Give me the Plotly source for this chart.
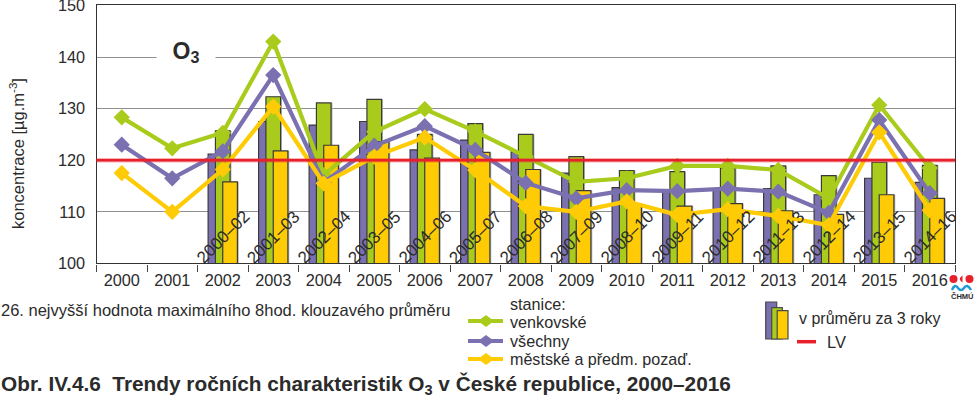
import plotly.graph_objects as go

W, H = 974, 396
years = [str(y) for y in range(2000, 2017)]
bar_years = years[2:]
period_labels = ["2000–02", "2001–03", "2002–04", "2003–05", "2004–06", "2005–07", "2006–08", "2007–09",
                 "2008–10", "2009–11", "2010–12", "2011–13", "2012–14", "2013–15", "2014–16"]

line_venkovske = [128.3, 122.3, 125.3, 143.0, 117.1, 125.5, 129.9, 125.6, 120.7, 115.8, 116.5, 118.9, 118.9, 118.1, 112.6, 130.7, 118.5]
line_vsechny = [123.0, 116.5, 121.7, 136.5, 115.7, 122.8, 126.6, 122.0, 115.6, 112.6, 114.2, 114.0, 114.5, 113.9, 109.8, 127.8, 113.6]
line_mestske = [117.5, 110.0, 118.2, 130.4, 115.5, 120.7, 124.4, 118.1, 111.1, 110.0, 112.0, 109.4, 110.5, 109.2, 107.4, 125.4, 110.3]

bar_vsechny = [121.2, 127.5, 126.8, 127.5, 122.0, 123.9, 121.6, 117.5, 114.7, 114.0, 114.3, 114.5, 113.3, 116.5, 115.7]
bar_venkovske = [125.7, 132.3, 131.1, 131.8, 125.0, 127.1, 125.0, 120.7, 118.0, 117.8, 118.5, 118.9, 117.0, 119.6, 119.0]
bar_mestske = [115.8, 121.8, 122.9, 123.6, 120.4, 121.5, 118.2, 114.1, 111.5, 111.1, 111.6, 110.2, 109.5, 113.3, 112.6]

LV = 120
GREEN, PURPLE, YELLOW, RED = "#a8cb1c", "#7b70b0", "#ffcb05", "#e8202c"
INK = "#2b2b2b"
FONT = "Liberation Sans"
BAR_W = 0.29

# margins are zero, so paper coordinates are simply pixels divided by the figure size
px = lambda v: v / W
py = lambda v: 1 - v / H
L, R, T, B = 96.5, 955, 5.4, 263.4

fig = go.Figure()
for name, vals, col, off in [("všechny", bar_vsechny, PURPLE, -BAR_W),
                             ("venkovské", bar_venkovske, GREEN, -BAR_W / 2),
                             ("městské", bar_mestske, YELLOW, 0)]:
    # soft grey shadow to the right of each bar, then the bar
    fig.add_bar(x=bar_years, y=vals, width=BAR_W, offset=off + 0.028, marker=dict(color="#b8b8b8", line=dict(width=0)))
    fig.add_bar(x=bar_years, y=vals, width=BAR_W, offset=off, marker=dict(color=col, line=dict(color="#3a3a3a", width=1.2)))
for vals, col in [(line_venkovske, GREEN), (line_vsechny, PURPLE), (line_mestske, YELLOW)]:
    fig.add_scatter(x=years, y=vals, mode="lines+markers", line=dict(color=col, width=4.2),
                    marker=dict(symbol="diamond", size=12.5, color=col), cliponaxis=False)

ann = []
def text(x, y, s, size=15, bold=False, anchor="left", color=INK):
    ann.append(dict(xref="paper", yref="paper", x=px(x), y=py(y), text=f"<b>{s}</b>" if bold else s, showarrow=False,
                    xanchor=anchor, yanchor="middle", borderpad=0, font=dict(family=FONT, size=size, color=color)))

for yr, lab in zip(bar_years, period_labels):
    ann.append(dict(xref="x", yref="y", x=years.index(yr), y=105.1, text=lab, showarrow=False, textangle=-45,
                    xanchor="center", yanchor="middle", font=dict(family=FONT, size=17, color=INK)))

ann.append(dict(xref="paper", yref="paper", x=px(186), y=py(52), text="<b>O<sub>3</sub></b>", showarrow=False, width=58, height=38,
                xanchor="center", yanchor="middle", bgcolor="white", borderpad=0, font=dict(family=FONT, size=23, color=INK)))
ann.append(dict(xref="paper", yref="paper", x=px(17), y=py(154), text="koncentrace [µg.m<sup>-3</sup>]", showarrow=False, textangle=-90,
                xanchor="center", yanchor="middle", font=dict(family=FONT, size=16.5, color=INK)))

text(0, 310, "26. nejvyšší hodnota maximálního 8hod. klouzavého průměru", 16.5)
text(509, 304, "stanice:", 16.2)
text(509, 322, "venkovské", 16.2)
text(509, 341, "všechny", 16.2)
text(509, 359, "městské a předm. pozaď.", 16.1)
text(798, 318, "v průměru za 3 roky", 16)
text(826, 342, "LV", 16.5)
text(0, 384.5, "Obr. IV.4.6\u00a0 Trendy ročních charakteristik O<sub>3</sub> v České republice, 2000–2016", 20.8, bold=True)
text(962, 296, "ČHMÚ", 7.5, bold=True, anchor="center")

shapes = []
# limit value line with its pale halo
shapes.append(dict(type="line", xref="paper", yref="y", x0=px(L), x1=px(R), y0=LV, y1=LV, line=dict(color="rgba(232,32,44,0.35)", width=4.5), layer="above"))
shapes.append(dict(type="line", xref="paper", yref="y", x0=px(L), x1=px(R), y0=LV, y1=LV, line=dict(color=RED, width=2.6), layer="above"))

def rect(x0, y0, x1, y1, col):
    shapes.append(dict(type="rect", xref="paper", yref="paper", x0=px(x0), x1=px(x1), y0=py(y0), y1=py(y1), fillcolor=col, line=dict(color="#4a4a4a", width=1.2)))

rect(765.7, 302, 776.7, 339, PURPLE)
rect(771.7, 307.7, 782.3, 339, GREEN)
rect(777.2, 310.7, 788, 339, YELLOW)
shapes.append(dict(type="line", xref="paper", yref="paper", x0=px(797), x1=px(816), y0=py(341.7), y1=py(341.7), line=dict(color=RED, width=3.5)))

for y, col in [(321, GREEN), (341, PURPLE), (359, YELLOW)]:
    shapes.append(dict(type="line", xref="paper", yref="paper", x0=px(468), x1=px(503), y0=py(y), y1=py(y), line=dict(color=col, width=4.2)))
    path = f"M {px(478)} {py(y)} L {px(486)} {py(y-6)} L {px(494)} {py(y)} L {px(486)} {py(y+6)} Z"
    shapes.append(dict(type="path", xref="paper", yref="paper", path=path, fillcolor=col, line=dict(width=0)))

# logo
for cx in (953.5, 969.5):
    shapes.append(dict(type="circle", xref="paper", yref="paper", x0=px(cx - 4), x1=px(cx + 4), y0=py(279 + 4), y1=py(279 - 4), fillcolor="#e8202c", line=dict(width=0)))
hp = f"M {px(962.5)} {py(275.5)} Q {px(957)} {py(279)} {px(962.5)} {py(282.5)} Z"
shapes.append(dict(type="path", xref="paper", yref="paper", path=hp, fillcolor="#e8202c", line=dict(width=0)))
wave = (f"M {px(952)} {py(290)} Q {px(955)} {py(283)} {px(958)} {py(288)} Q {px(961)} {py(292)} {px(964)} {py(288)} "
        f"Q {px(967)} {py(283)} {px(971)} {py(290)}")
shapes.append(dict(type="path", xref="paper", yref="paper", path=wave, line=dict(color="#1f9ad6", width=2.5)))

fig.update_layout(
    width=W, height=H, margin=dict(l=0, r=0, t=0, b=0), barmode="overlay", showlegend=False,
    paper_bgcolor="white", plot_bgcolor="white", annotations=ann, shapes=shapes,
    font=dict(family=FONT, color=INK),
    xaxis=dict(domain=[px(L), px(R)], type="category", categoryorder="array", categoryarray=years, tickson="boundaries",
               range=[-0.5, 16.5], automargin=False, ticklabelstandoff=2,
               ticks="outside", ticklen=7, tickcolor="#444", tickwidth=1, showgrid=False, linecolor="#333", linewidth=1.2,
               mirror=True, tickfont=dict(size=16.3, color=INK), tickangle=0),
    yaxis=dict(domain=[py(B), py(T)], range=[100, 150], tickvals=[100, 110, 120, 130, 140, 150], ticks="", ticklabelstandoff=7,
               automargin=False, ticklabeloverflow="allow",
               gridcolor="#909090", gridwidth=1.4, linecolor="#333", linewidth=1.2, mirror=True, zeroline=False,
               tickfont=dict(size=16.3, color=INK)),
)

fig.write_html("out.html", config=dict(displayModeBar=False),
               post_script="document.body.style.margin='0';document.body.style.overflow='hidden';")
